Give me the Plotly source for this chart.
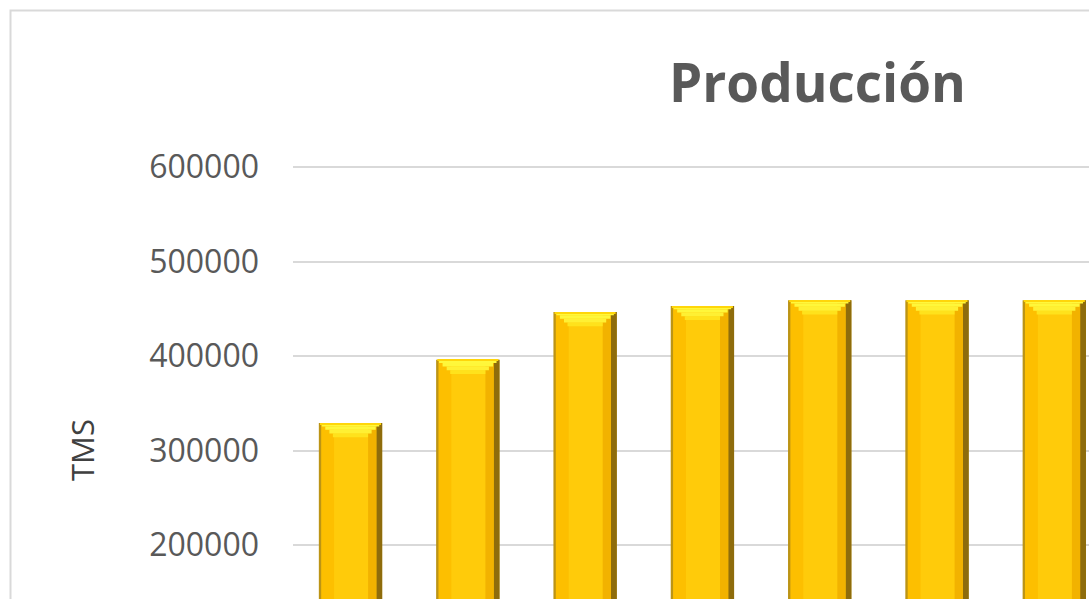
import plotly.graph_objects as go

# ---- data ----
categories = ["2015", "2016", "2017", "2018", "2019", "2020", "2021"]
production_tms = [329000, 396000, 446500, 453000, 459000, 459000, 459000]
y_ticks = [200000, 300000, 400000, 500000, 600000]

idx = list(range(len(categories)))
n = len(idx)

fig = go.Figure()

def layer(width, offset, color, y=None, base=None):
    fig.add_trace(go.Bar(
        x=idx, y=y if y is not None else production_tms, base=base,
        width=[width] * n, offset=[offset] * n,
        marker=dict(color=color, line=dict(width=0)),
        hoverinfo="skip", showlegend=False,
    ))

W = 0.54
# outer edge (left bevel)
layer(W, -W / 2, "#BC9415")
# right dark edge
layer(0.05, W / 2 - 0.05, "#8E6C0C")
# main body
layer(0.47, -W / 2 + 0.02, "#FDBF00")
# body highlight
layer(0.30, -0.14, "#FFCB0A")
# right shading
layer(0.07, 0.15, "#F2B200")

# top bevel cap (stepped trapezoid)
def cap(top_off, bottom_off, width, color):
    h = [bottom_off - top_off] * n
    b = [v - bottom_off for v in production_tms]
    layer(width, -width / 2, color, y=h, base=b)

cap(11000, 15000, 0.30, "#FFE21C")
cap(7000, 11000, 0.36, "#FFF033")
cap(3500, 7000, 0.43, "#FFF73A")
cap(1200, 3500, 0.49, "#FFF83C")
cap(0, 1200, W - 0.02, "#FFD60A")

# plot-area pixel geometry
L, T, H = 293, 100, 599
plot_w = 1089 - L
plot_h = H - T
px_per_unit = 94.5 / 100000
zero_px = 734
y_lo = (zero_px - H) / px_per_unit
y_hi = (zero_px - T) / px_per_unit
pitch = 117.3
x_lo = -(350.5 - L) / pitch
x_hi = x_lo + plot_w / pitch

def px_x(p):
    return (p - L) / plot_w

def px_y(p):
    return (H - p) / plot_h

fig.update_layout(
    width=1089, height=599,
    margin=dict(l=L, r=0, t=T, b=0),
    paper_bgcolor="white", plot_bgcolor="white",
    barmode="overlay",
    font=dict(family="Open Sans", color="#595959"),
    xaxis=dict(range=[x_lo, x_hi], showticklabels=False, showgrid=False,
               zeroline=False, showline=False, ticks=""),
    yaxis=dict(range=[y_lo, y_hi], tickvals=y_ticks,
               ticktext=[str(v) for v in y_ticks],
               tickfont=dict(size=32, color="#595959", family="Open Sans"),
               showgrid=True, gridcolor="#D9D9D9", gridwidth=2,
               zeroline=False, showline=False, ticks="",
               ticklabelstandoff=33),
    shapes=[dict(type="rect", xref="paper", yref="paper",
                 x0=px_x(10.5), x1=px_x(1200), y0=px_y(700), y1=px_y(10.5),
                 line=dict(color="#D9D9D9", width=2), layer="below")],
    annotations=[
        dict(text="<b>Producción</b>", xref="paper", yref="paper",
             x=px_x(817), y=px_y(81), showarrow=False,
             xanchor="center", yanchor="middle",
             font=dict(size=53, color="#595959", family="Open Sans")),
        dict(text="TMS", xref="paper", yref="paper",
             x=px_x(82), y=px_y(450), showarrow=False, textangle=-90,
             xanchor="center", yanchor="middle",
             font=dict(size=31, color="#404040", family="Open Sans")),
    ],
)

fig.write_html("out.html")
